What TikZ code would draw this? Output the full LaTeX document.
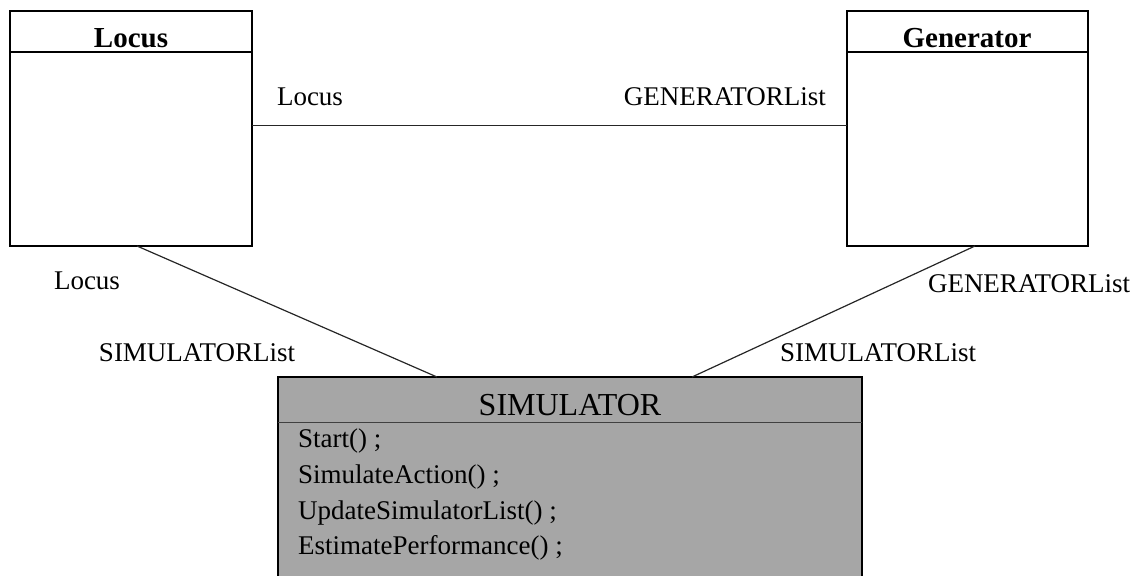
\documentclass[tikz,border=0pt]{standalone}
\usepackage{fontspec}
\setmainfont{Liberation Serif}
\begin{document}
\begin{tikzpicture}[x=1pt,y=-1pt,
  lbl/.style={inner sep=0pt,font=\fontsize{27}{30}\selectfont},
  hdr/.style={inner sep=0pt,font=\fontsize{29}{32}\selectfont\bfseries},
  meth/.style={inner sep=0pt,anchor=west,font=\fontsize{27}{30}\selectfont},
  cls/.style={draw=black,line width=1.4pt},
  conn/.style={draw=black!85,line width=1.2pt}]
\useasboundingbox (0,0) rectangle (1139,575);
% Locus class
\draw[cls] (10,11) rectangle (252,246);
\draw[cls] (10,52) -- (252,52);
\node[hdr] (locusH) at (131,38) {Locus};
\coordinate (locusR) at (252,125.5);
\coordinate (locusB) at (137,246);
% Generator class
\draw[cls] (847,11) rectangle (1088,246);
\draw[cls] (847,52) -- (1088,52);
\node[hdr] (genH) at (967,38) {Generator};
\coordinate (genL) at (847,125.5);
\coordinate (genB) at (975,246);
% Simulator class
\fill[black!35] (278,377) rectangle (862,577);
\draw[draw=black,line width=2.8pt] (278,577) -- (278,377) -- (862,377) -- (862,577);
\draw[draw=black!75,line width=1.4pt] (278,422.5) -- (862,422.5);
\node[inner sep=0pt,font=\fontsize{32}{34}\selectfont] (simH) at (570,405) {SIMULATOR};
\node[meth] (m1) at (298,441) {Start() ;};
\node[meth] (m2) at (298,477) {SimulateAction() ;};
\node[meth] (m3) at (298,513) {UpdateSimulatorList() ;};
\node[meth] (m4) at (298,548) {EstimatePerformance() ;};
\coordinate (simL) at (437,377);
\coordinate (simR) at (692,377);
% connectors
\draw[conn] (locusR) -- (genL);
\draw[conn] (locusB) -- (simL);
\draw[conn] (genB) -- (simR);
% role labels
\node[lbl] (r1) at (310,97) {Locus};
\node[lbl,anchor=east] (r2) at (826,97) {GENERATORList};
\node[lbl] (r3) at (87,281) {Locus};
\node[lbl] (r4) at (197,353) {SIMULATORList};
\node[lbl] (r5) at (1029,284) {GENERATORList};
\node[lbl] (r6) at (878,353) {SIMULATORList};
\end{tikzpicture}
\end{document}
